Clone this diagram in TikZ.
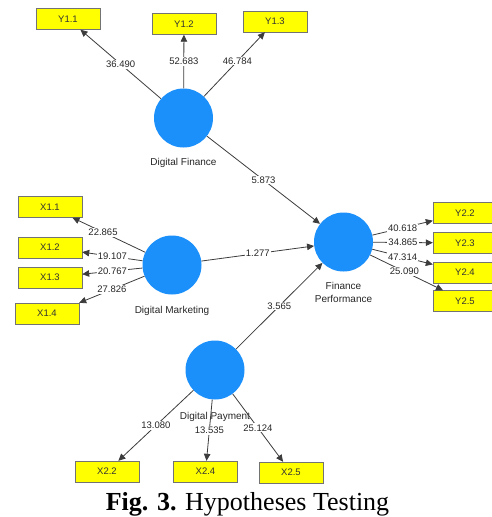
\documentclass[tikz,border=0pt]{standalone}
\usepackage{fontspec}
\setmainfont{Liberation Serif}
\setsansfont{Liberation Sans}
\usetikzlibrary{positioning, arrows.meta}

\definecolor{plsblue}{RGB}{27,143,250}
\definecolor{plsyellow}{RGB}{255,255,0}
\definecolor{plsline}{RGB}{60,60,60}

\tikzset{
    latent/.style={circle, fill=plsblue, minimum size=59pt, inner sep=0pt},
    item/.style={rectangle, draw=black!55, line width=0.4pt, fill=plsyellow, minimum width=64pt, minimum height=21pt, inner sep=0pt, text=black!80, font=\sffamily\fontsize{9.5}{11}\selectfont},
    lattext/.style={inner sep=1pt, align=center, text=black!85, font=\sffamily\fontsize{10}{13}\selectfont},
    load/.style={draw=plsline, line width=0.8pt, -{Triangle[length=7pt,width=6.5pt]}},
    val/.style={fill=white, inner sep=1pt, text=black!85, font=\sffamily\fontsize{9.5}{11}\selectfont}
}

\begin{document}
\begin{tikzpicture}[x=1pt, y=-1pt]
            \useasboundingbox (0, 0) rectangle (492, 517);
            \clip (0, 0) rectangle (492, 517);

            \node[latent] (df) at (183.5, 118) {};
            \node[latent] (dm) at (172, 265) {};
            \node[latent] (fp) at (343.5, 242) {};
            \node[latent] (dp) at (215, 370) {};

            \node[lattext, below=9pt of df] (dflabel) {Digital Finance};
            \node[lattext, below=10pt of dm] (dmlabel) {Digital Marketing};
            \node[lattext, below=9pt of fp] (fplabel) {Finance\\Performance};
            \node[lattext, below=11pt of dp] (dplabel) {Digital Payment};

            \node[item] (y11) at (68, 19) {Y1.1};
            \node[item] (y12) at (184, 24) {Y1.2};
            \node[item] (y13) at (275, 21.5) {Y1.3};
            \node[item] (x11) at (50, 207) {X1.1};
            \node[item] (x12) at (50, 247.5) {X1.2};
            \node[item] (x13) at (50, 277.5) {X1.3};
            \node[item] (x14) at (47, 313.5) {X1.4};
            \node[item] (y22) at (465, 213) {Y2.2};
            \node[item] (y23) at (465, 243) {Y2.3};
            \node[item] (y24) at (465, 272.5) {Y2.4};
            \node[item] (y25) at (465, 301) {Y2.5};
            \node[item] (x22) at (107, 471.5) {X2.2};
            \node[item] (x24) at (205.5, 471.5) {X2.4};
            \node[item] (x25) at (291, 472.5) {X2.5};

            \draw[load] (df) -- node[val] {36.490} (y11);
            \draw[load] (df) -- node[val] {52.683} (y12);
            \draw[load] (df) -- node[val, pos=0.55] {46.784} (y13);

            \draw[load] (dm) -- node[val, pos=0.58] {22.865} (x11);
            \draw[load] (dm) -- node[val] {19.107} (x12);
            \draw[load] (dm) -- node[val] {20.767} (x13);
            \draw[load] (dm) -- node[val] {27.826} (x14.north east);

            \draw[load] (fp) -- node[val] {40.618} (y22);
            \draw[load] (fp) -- node[val] {34.865} (y23);
            \draw[load] (fp) -- node[val] {47.314} (y24);
            \draw[load] (fp) -- node[val, pos=0.47] {25.090} (y25);

            \draw[load] (dp) -- node[val] {13.080} (x22);
            \draw[load] (dp) -- node[val] {13.535} (x24);
            \draw[load] (dp) -- node[val] {25.124} (x25);

            \draw[load] (df) -- node[val] {5.873} (fp);
            \draw[load] (dm) -- node[val] {1.277} (fp);
            \draw[load] (dp) -- node[val] {3.565} (fp);

            \node[anchor=base, inner sep=0pt, font=\fontsize{26}{30}\selectfont] (caption) at (247.5, 510.5) {\textbf{Fig. 3.} Hypotheses Testing};
        \end{tikzpicture}
\end{document}
